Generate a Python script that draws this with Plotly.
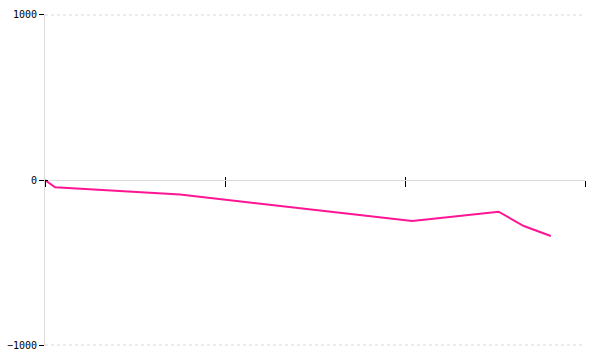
import plotly.graph_objects as go

# Data
x_vals = [0.0, 0.056, 0.75, 2.04, 2.52, 2.66, 2.81]
y_vals = [0, -44, -88, -248, -192, -279, -339]
y_ticks = [-1000, 0, 1000]
y_tick_text = ["\u22121000", "0", "1000"]
x_ticks = [0, 1, 2, 3]

fig = go.Figure()
fig.add_trace(go.Scatter(
    x=x_vals, y=y_vals, mode="lines",
    line=dict(color="#ff1493", width=2),
    hoverinfo="skip", showlegend=False,
))

font = dict(family="DejaVu Sans Mono, Liberation Mono, monospace", size=10, color="#000")

fig.update_layout(
    template="none",
    width=600, height=360,
    margin=dict(l=45, r=15, t=14, b=14, autoexpand=False),
    paper_bgcolor="white", plot_bgcolor="white",
    font=font,
    showlegend=False,
    xaxis=dict(
        range=[0, 3], tickvals=x_ticks, showticklabels=False,
        showgrid=False, zeroline=False, automargin=False,
        showline=True, linecolor="#dcdcdc", linewidth=1,
        ticks="outside", ticklen=6, tickcolor="#000", tickwidth=1,
        anchor="free", position=0.5,
    ),
    xaxis2=dict(
        range=[0, 3], tickvals=x_ticks, showticklabels=False,
        showgrid=False, zeroline=False, showline=False, automargin=False,
        ticks="inside", ticklen=3, tickcolor="#000", tickwidth=1,
        overlaying="x", anchor="free", position=0.5,
    ),
    yaxis=dict(
        range=[-1006, 1006], tickvals=y_ticks, ticktext=y_tick_text,
        tickfont=dict(color="#000"),
        showgrid=False,
        zeroline=False, automargin=False,
        showline=True, linecolor="#dcdcdc", linewidth=1,
        ticks="outside", ticklen=5, tickcolor="#000", tickwidth=1,
        ticklabelstandoff=0,
    ),
    yaxis2=dict(
        range=[-1006, 1006], tickvals=y_ticks, showticklabels=False,
        showgrid=False, zeroline=False, showline=False, automargin=False,
        ticks="inside", ticklen=3, tickcolor="#000", tickwidth=1,
        overlaying="y", anchor="x",
    ),
)
fig.add_trace(go.Scatter(x=[None], y=[None], xaxis="x2", yaxis="y2",
                         showlegend=False, hoverinfo="skip"))

# dotted gridlines at the non-zero y ticks
for v in y_ticks:
    if v != 0:
        fig.add_hline(y=v, line=dict(color="#dadada", width=1, dash="dot"),
                      layer="below")

fig.write_html("out.html")
